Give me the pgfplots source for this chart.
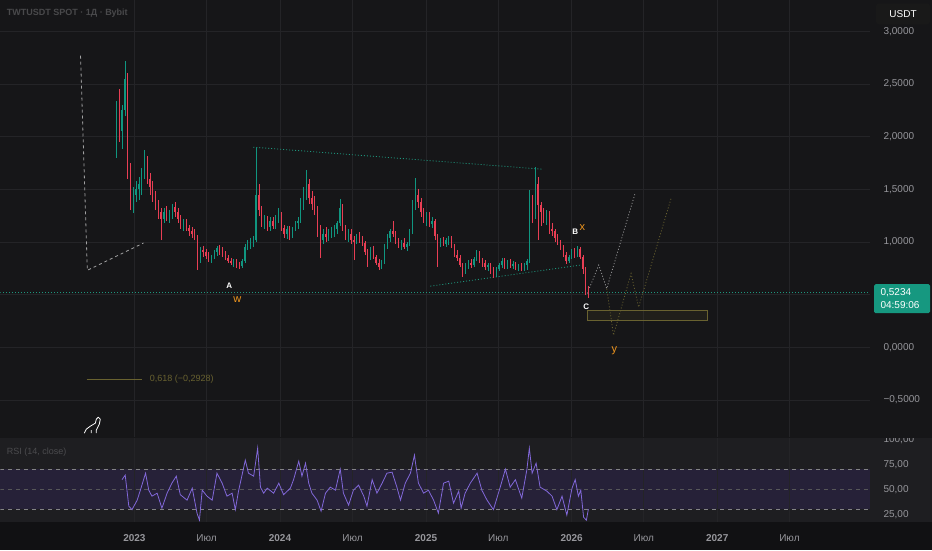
\documentclass[border=0pt]{standalone}
\usepackage{fontspec}
\setmainfont{Liberation Sans}
\usepackage{pgfplots}
\usepackage{pgfplotstable}
\pgfplotsset{compat=1.18}

\definecolor{bgmain}{RGB}{22,22,24}
\definecolor{bgrsi}{RGB}{30,30,33}
\definecolor{bgband}{RGB}{38,33,56}
\definecolor{bgtime}{RGB}{17,17,19}
\definecolor{gridc}{RGB}{36,36,39}
\definecolor{upc}{RGB}{16,150,128}
\definecolor{dnc}{RGB}{232,62,84}
\definecolor{rsic}{RGB}{130,104,218}
\definecolor{labc}{RGB}{150,150,155}
\definecolor{tealc}{RGB}{30,150,125}
\definecolor{olivec}{RGB}{105,98,48}
\definecolor{orangec}{RGB}{240,150,30}
\definecolor{tagc}{RGB}{22,152,128}

% weekly candles: day since 2023-01-01, open, high, low, close
\pgfplotstableread{
d o h l c
-45 1.85 2.34 1.80 2.20
-38 2.20 2.45 1.95 2.05
-31 2.05 2.30 1.88 2.25
-24 2.25 2.72 2.20 2.55
-17 2.55 2.60 1.60 1.70
-10 1.70 1.75 1.30 1.40
-3 1.40 1.52 1.27 1.45
4 1.45 1.58 1.38 1.50
11 1.50 1.62 1.40 1.55
18 1.55 1.70 1.45 1.65
25 1.65 1.87 1.60 1.78
32 1.78 1.82 1.55 1.60
39 1.60 1.65 1.45 1.52
46 1.52 1.58 1.38 1.42
53 1.42 1.48 1.30 1.35
60 1.35 1.40 1.22 1.28
67 1.28 1.32 1.02 1.22
74 1.22 1.32 1.18 1.28
81 1.28 1.34 1.20 1.24
88 1.24 1.30 1.18 1.27
95 1.27 1.36 1.22 1.33
102 1.33 1.38 1.24 1.28
109 1.28 1.32 1.18 1.22
116 1.22 1.26 1.12 1.16
123 1.16 1.22 1.10 1.18
130 1.18 1.22 1.10 1.13
137 1.13 1.16 1.06 1.10
144 1.10 1.14 1.04 1.08
151 1.08 1.12 1.02 1.05
158 1.05 1.07 0.73 0.85
165 0.85 0.95 0.80 0.92
172 0.92 0.96 0.86 0.90
179 0.90 0.93 0.84 0.87
186 0.87 0.90 0.81 0.84
193 0.84 0.88 0.80 0.86
200 0.86 0.92 0.84 0.90
207 0.90 0.96 0.87 0.94
214 0.94 0.97 0.88 0.91
221 0.91 0.95 0.86 0.88
228 0.88 0.91 0.83 0.85
235 0.85 0.88 0.80 0.82
242 0.82 0.85 0.78 0.80
249 0.80 0.84 0.76 0.82
256 0.82 0.84 0.75 0.78
263 0.78 0.81 0.74 0.77
270 0.77 0.84 0.75 0.82
277 0.82 0.98 0.80 0.95
284 0.95 1.02 0.92 0.97
291 0.97 1.04 0.93 1.00
298 1.00 1.06 0.95 1.02
305 1.02 1.89 1.00 1.45
312 1.45 1.55 1.25 1.30
319 1.30 1.34 1.14 1.18
326 1.18 1.26 1.12 1.22
333 1.22 1.25 1.10 1.14
340 1.14 1.24 1.10 1.20
347 1.20 1.24 1.12 1.15
354 1.15 1.26 1.12 1.22
361 1.22 1.32 1.18 1.26
368 1.26 1.28 1.10 1.13
375 1.13 1.16 1.04 1.08
382 1.08 1.15 1.03 1.12
389 1.12 1.15 1.02 1.06
396 1.06 1.14 1.04 1.12
403 1.12 1.20 1.10 1.18
410 1.18 1.24 1.12 1.20
417 1.20 1.42 1.18 1.38
424 1.38 1.52 1.30 1.45
431 1.45 1.68 1.40 1.55
438 1.55 1.60 1.36 1.42
445 1.42 1.48 1.30 1.36
452 1.36 1.44 1.26 1.30
459 1.30 1.34 1.05 1.10
466 1.10 1.16 0.85 1.02
473 1.02 1.12 0.98 1.08
480 1.08 1.14 1.00 1.05
487 1.05 1.12 1.01 1.09
494 1.09 1.14 1.04 1.10
501 1.10 1.16 1.05 1.12
508 1.12 1.20 1.08 1.18
515 1.18 1.41 1.15 1.32
522 1.32 1.36 1.10 1.14
529 1.14 1.16 1.02 1.06
536 1.06 1.12 1.00 1.08
543 1.08 1.12 0.98 1.02
550 1.02 1.06 0.83 1.00
557 1.00 1.08 0.98 1.05
564 1.05 1.09 0.99 1.03
571 1.03 1.06 0.96 0.99
578 0.99 1.01 0.88 0.90
585 0.90 0.93 0.76 0.86
592 0.86 0.95 0.83 0.92
599 0.92 0.96 0.84 0.86
606 0.86 0.88 0.78 0.80
613 0.80 0.84 0.73 0.76
620 0.76 0.83 0.74 0.81
627 0.81 0.98 0.79 0.95
634 0.95 1.08 0.93 1.04
641 1.04 1.12 1.00 1.10
648 1.10 1.20 1.05 1.08
655 1.08 1.10 0.98 1.00
662 1.00 1.04 0.94 0.96
669 0.96 1.02 0.92 0.99
676 0.99 1.04 0.93 0.95
683 0.95 1.00 0.91 0.98
690 0.98 1.12 0.96 1.10
697 1.10 1.40 1.08 1.35
704 1.35 1.61 1.30 1.45
711 1.45 1.50 1.32 1.38
718 1.38 1.42 1.24 1.28
725 1.28 1.32 1.18 1.22
732 1.22 1.28 1.15 1.25
739 1.25 1.28 1.14 1.17
746 1.17 1.24 1.13 1.20
753 1.20 1.22 1.02 1.06
760 1.06 1.08 0.76 0.98
767 0.98 1.04 0.95 1.01
774 1.01 1.05 0.96 0.98
781 0.98 1.04 0.95 1.02
788 1.02 1.06 0.97 1.04
795 1.04 1.06 0.94 0.96
802 0.96 0.98 0.86 0.88
809 0.88 0.92 0.82 0.85
816 0.85 0.88 0.76 0.78
823 0.78 0.80 0.67 0.72
830 0.72 0.80 0.70 0.78
837 0.78 0.83 0.74 0.80
844 0.80 0.84 0.75 0.78
851 0.78 0.86 0.76 0.84
858 0.84 0.92 0.82 0.89
865 0.89 0.91 0.80 0.82
872 0.82 0.85 0.76 0.80
879 0.80 0.83 0.73 0.76
886 0.76 0.80 0.72 0.78
893 0.78 0.80 0.70 0.73
900 0.73 0.76 0.66 0.70
907 0.70 0.76 0.67 0.74
914 0.74 0.80 0.72 0.78
921 0.78 0.85 0.75 0.82
928 0.82 0.85 0.74 0.76
935 0.76 0.83 0.74 0.80
942 0.80 0.84 0.75 0.77
949 0.77 0.82 0.74 0.79
956 0.79 0.81 0.73 0.75
963 0.75 0.79 0.72 0.77
970 0.77 0.80 0.72 0.74
977 0.74 0.80 0.72 0.78
984 0.78 0.84 0.73 0.82
991 0.82 1.49 0.80 1.40
998 1.40 1.45 1.18 1.25
1005 1.25 1.71 1.22 1.55
1012 1.55 1.62 1.02 1.35
1019 1.35 1.38 1.15 1.28
1026 1.28 1.32 1.18 1.22
1033 1.22 1.30 1.16 1.26
1040 1.26 1.29 1.08 1.12
1047 1.12 1.18 1.06 1.10
1054 1.10 1.12 1.00 1.04
1061 1.04 1.08 0.97 1.00
1068 1.00 1.02 0.92 0.95
1075 0.95 0.97 0.86 0.88
1082 0.88 0.90 0.79 0.82
1089 0.82 0.88 0.80 0.86
1096 0.86 0.93 0.84 0.91
1103 0.91 0.94 0.85 0.88
1110 0.88 0.96 0.86 0.93
1117 0.93 0.95 0.84 0.86
1124 0.86 0.88 0.70 0.74
1131 0.74 0.76 0.50 0.55
1138 0.55 0.58 0.47 0.52
}\candles

% RSI(14)
\pgfplotstableread{
d r
-31 59.5
-23 64
-14 33
-6 29.5
7 39
15 49
28 66
36 49
44 43
57 46
69 31
82 46
94 56
105 63
115 44.5
132 39
145 51
157 26
163 19
170 49
182 43
195 39
207 66
220 56
232 43
245 46
253 29.5
261 48
278 79
286 66
299 63
309 91
316 52
324 46
333 51
349 46
362 56
374 44.5
391 51
399 59.5
412 78
420 63
429 76
437 56
445 46
458 39
468 28
479 46
491 52
504 49
516 70
524 46
537 34
549 49
562 54
575 43
583 33
596 59.5
608 46
621 56
633 66
646 67
658 52
667 39
679 56
692 66
702 84
712 56
725 46
737 49
750 39
762 26
775 56
788 58
800 36
813 48
819 31
829 46
842 56
859 66
871 49
884 39
900 29.5
917 52
930 70
942 52
955 59.5
971 41
984 70
990 91
997 66
1007 76
1017 52
1034 48
1047 43
1059 29.5
1072 43
1084 24
1097 51
1105 59.5
1113 43
1119 49
1126 22
1133 19
1138 30
}\rsi

\pgfplotsset{
  wick/.style={#1, only marks, mark=none, mark size=0pt, forget plot,
    error bars/.cd, y dir=both, y explicit, error mark=none,
    error bar style={line width=0.55pt, #1}},
  body/.style={#1, only marks, mark=none, mark size=0pt, forget plot,
    error bars/.cd, y dir=both, y explicit, error mark=none,
    error bar style={line width=1.3pt, #1}},
  tv/.style={scale only axis, width=870pt, xmin=-336, xmax=1844,
    axis line style={draw=none}, major tick length=0pt,
    xtick={0,181,365,547,731,912,1096,1277,1461,1642},
    yticklabel pos=right,
    yticklabel style={anchor=west, xshift=10pt, text=labc,
      font=\fontsize{10}{12}\selectfont},
    major grid style={gridc, line width=0.7pt}},
}

\begin{document}
\begin{tikzpicture}[x=1pt,y=1pt]
% backgrounds
\fill[bgmain] (0,0) rectangle (932,550);
\fill[bgrsi] (0,28) rectangle (932,112);
\fill[bgband] (0,41) rectangle (870,81);
\fill[bgtime] (0,0) rectangle (932,28);

% price panel
\begin{axis}[tv, at={(0pt,113pt)}, anchor=south west, height=437pt,
  ymin=-0.8545, ymax=3.2944, xticklabels={},
  ytick={-0.5,0,0.5,1,1.5,2,2.5,3},
  yticklabels={{−0,5000},{0,0000},{},{1,0000},{1,5000},{2,0000},{2,5000},{3,0000}},
  grid=major]

% wave sketch lines
\addplot[white!60!bgmain, line width=0.8pt, dash pattern=on 3pt off 3pt]
  coordinates {(-135,2.77) (-118,0.73) (23,0.99)};
\addplot[tealc, line width=0.8pt, dash pattern=on 1pt off 2pt]
  coordinates {(298,1.90) (1025,1.69)};
\addplot[tealc, line width=0.8pt, dash pattern=on 1pt off 2pt]
  coordinates {(742,0.58) (1118,0.78)};
\addplot[tealc, line width=0.8pt, dash pattern=on 1pt off 2pt]
  coordinates {(-336,0.5234) (1844,0.5234)};
\addplot[white!55!bgmain, line width=0.8pt, dash pattern=on 1pt off 2pt]
  coordinates {(1135,0.51) (1164,0.78) (1184,0.557) (1255,1.46)};
\addplot[olivec, line width=0.8pt, dash pattern=on 1pt off 2pt]
  coordinates {(1184,0.557) (1201,0.114) (1245,0.70) (1264,0.38) (1345,1.41)};
\addplot[olivec, line width=0.8pt, fill=olivec, fill opacity=0.12]
  coordinates {(1135,0.351) (1436,0.351) (1436,0.250) (1135,0.250) (1135,0.351)};
\addplot[olivec, line width=0.8pt] coordinates {(-120,-0.304) (20,-0.304)};
\node[anchor=west, text=olivec, font=\fontsize{9}{10}\selectfont]
  at (axis cs:30,-0.304) {0,618 (−0,2928)};

% candles
\addplot[restrict expr to domain={\thisrow{c}-\thisrow{o}}{0:10}, wick=upc]
  table[x=d, y expr={(\thisrow{h}+\thisrow{l})/2}, y error expr={(\thisrow{h}-\thisrow{l})/2}] {\candles};
\addplot[restrict expr to domain={\thisrow{c}-\thisrow{o}}{-10:0}, wick=dnc]
  table[x=d, y expr={(\thisrow{h}+\thisrow{l})/2}, y error expr={(\thisrow{h}-\thisrow{l})/2}] {\candles};
\addplot[restrict expr to domain={\thisrow{c}-\thisrow{o}}{0:10}, body=upc]
  table[x=d, y expr={(\thisrow{o}+\thisrow{c})/2}, y error expr={abs(\thisrow{c}-\thisrow{o})/2}] {\candles};
\addplot[restrict expr to domain={\thisrow{c}-\thisrow{o}}{-10:0}, body=dnc]
  table[x=d, y expr={(\thisrow{o}+\thisrow{c})/2}, y error expr={abs(\thisrow{c}-\thisrow{o})/2}] {\candles};

% wave labels
\node[text=white, font=\bfseries\fontsize{8}{9}\selectfont] at (axis cs:238,0.58) {A};
\node[text=orangec, font=\fontsize{11}{12}\selectfont] at (axis cs:258,0.45) {w};
\node[text=white, font=\bfseries\fontsize{8}{9}\selectfont] at (axis cs:1105,1.10) {B};
\node[text=orangec, font=\fontsize{11}{12}\selectfont] at (axis cs:1123,1.14) {x};
\node[text=white, font=\bfseries\fontsize{8}{9}\selectfont] at (axis cs:1133,0.38) {C};
\node[text=orangec, font=\fontsize{11}{12}\selectfont] at (axis cs:1203,-0.03) {y};
\end{axis}

% RSI panel
\begin{axis}[tv, at={(0pt,28pt)}, anchor=south west, height=84pt,
  ymin=17, ymax=101, xmajorgrids=true,
  xticklabels={\textbf{2023},Июл,\textbf{2024},Июл,\textbf{2025},Июл,\textbf{2026},Июл,\textbf{2027},Июл},
  xticklabel style={yshift=-9pt, text=labc, font=\fontsize{10}{12}\selectfont},
  ytick={25,50,75,100},
  yticklabels={{25,00},{50,00},{75,00},{100,00}}]
\draw[white!45!bgrsi, line width=0.7pt, dash pattern=on 4pt off 4pt] (axis cs:-336,70) -- (axis cs:1844,70);
\draw[white!45!bgrsi, line width=0.7pt, dash pattern=on 4pt off 4pt] (axis cs:-336,30) -- (axis cs:1844,30);
\draw[white!25!bgrsi, line width=0.7pt, dash pattern=on 4pt off 4pt] (axis cs:-336,50) -- (axis cs:1844,50);
\addplot[rsic, line width=0.8pt] table[x=d, y=r] {\rsi};
\end{axis}

% cover the top half of the 100 label
\fill[bgmain] (870,112.5) rectangle (932,120);

% small logo outline
\draw[white, line width=0.8pt, line join=round]
  (84,117) -- (86,121) -- (90,124) -- (95,127) -- (96,131) -- (98,133) -- (100,131) -- (99,126) -- (96,120) -- (96,117)
  (91,117) -- (91,120);

% price tag and currency box
\fill[tagc, rounded corners=1.5pt] (874,237) rectangle (930,266);
\node[anchor=west, text=white, font=\fontsize{10}{11}\selectfont] at (877,258) {0,5234};
\node[anchor=west, text=white, font=\fontsize{10}{11}\selectfont] at (877,245) {04:59:06};
\fill[black!90, rounded corners=3pt] (876,526) rectangle (930,547);
\node[text=white, font=\fontsize{10}{11}\selectfont] at (903,536.5) {USDT};

% titles
\node[anchor=west, text=white!22!bgmain, font=\bfseries\fontsize{9}{10}\selectfont] at (3,537) {TWTUSDT SPOT · 1Д · Bybit};
\node[anchor=west, text=white!20!bgrsi, font=\fontsize{9}{10}\selectfont] at (3,98) {RSI (14, close)};
\end{tikzpicture}
\end{document}
